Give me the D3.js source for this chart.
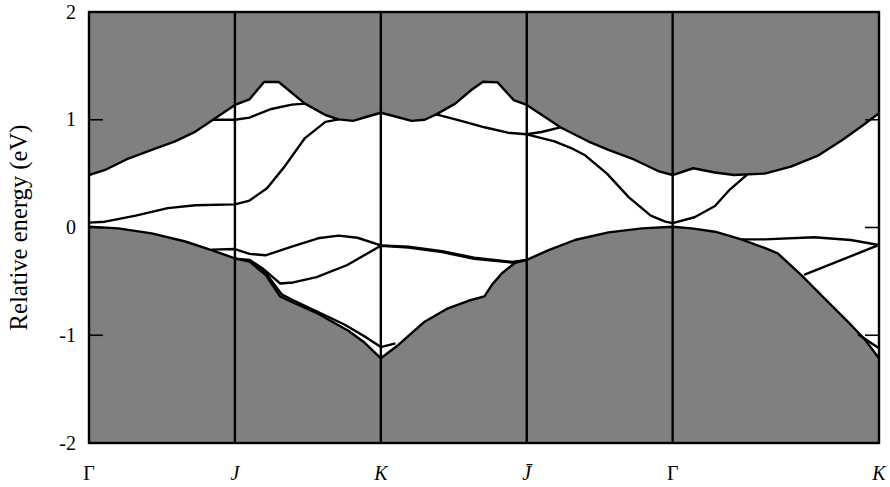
<!DOCTYPE html>
<html>
<head>
<meta charset="utf-8">
<script src="https://cdn.jsdelivr.net/npm/d3@7"></script>
<style>
  html, body { margin: 0; padding: 0; background: #fff; }
  svg text { font-family: "Liberation Serif", "Times New Roman", serif; fill: #000; }
</style>
</head>
<body>
<svg id="chart" width="890" height="487"></svg>
<script>
// High-symmetry points along the k-path (path length units)
const kLabels = ["Γ", "J", "K", "J\u0304", "Γ", "K"];
const kItalic = [false, true, true, true, false, true];
const kPoints = [0, 1, 2, 3, 4, 5.414];

// Energy axis
const yTicks = [2, 1, 0, -1, -2];
const yInnerTicks = [1, 0, -1];
const yTitle = "Relative energy (eV)";

// Lower boundary of the conduction continuum [k, E]
const conductionEdge = [
  [0, 0.487], [0.11, 0.534], [0.27, 0.64], [0.43, 0.72], [0.59, 0.80], [0.73, 0.89],
  [0.85, 1.0], [1.0, 1.137], [1.10, 1.19], [1.20, 1.35], [1.30, 1.35], [1.48, 1.15],
  [1.62, 1.044], [1.71, 1.004], [1.81, 0.99], [1.91, 1.03], [2.0, 1.065], [2.10, 1.03],
  [2.21, 0.99], [2.30, 1.0], [2.38, 1.05], [2.51, 1.15], [2.62, 1.276], [2.70, 1.353],
  [2.80, 1.347], [2.91, 1.183], [3.0, 1.137], [3.12, 1.03], [3.23, 0.93], [3.42, 0.80],
  [3.56, 0.72], [3.72, 0.64], [3.90, 0.524], [4.0, 0.487], [4.14, 0.55], [4.29, 0.51],
  [4.42, 0.487], [4.63, 0.50], [4.81, 0.565], [5.0, 0.67], [5.16, 0.81], [5.29, 0.935],
  [5.414, 1.06]
];

// Upper boundary of the valence continuum [k, E]
const valenceEdge = [
  [0, 0.007], [0.20, -0.008], [0.43, -0.054], [0.66, -0.13], [0.84, -0.21], [1.0, -0.286],
  [1.10, -0.317], [1.21, -0.44], [1.31, -0.64], [1.39, -0.69], [1.57, -0.80], [1.78, -0.96],
  [1.89, -1.07], [2.0, -1.214], [2.12, -1.09], [2.30, -0.874], [2.46, -0.75], [2.60, -0.68],
  [2.71, -0.64], [2.76, -0.534], [2.83, -0.425], [2.92, -0.327], [3.0, -0.30], [3.15, -0.21],
  [3.33, -0.116], [3.56, -0.045], [3.79, -0.008], [4.0, 0.007], [4.13, -0.008], [4.29, -0.039],
  [4.47, -0.11], [4.63, -0.19], [4.72, -0.24], [4.88, -0.44], [5.04, -0.657], [5.20, -0.874],
  [5.32, -1.044], [5.414, -1.214]
];

// Gap states above the Fermi level [k, E]
const bandA = [
  [0, 0.045], [0.11, 0.054], [0.32, 0.11], [0.54, 0.18], [0.73, 0.206], [1.0, 0.215],
  [1.10, 0.25], [1.22, 0.365], [1.34, 0.565], [1.48, 0.83], [1.62, 0.98], [1.71, 1.004]
];
const bandB = [
  [0.85, 1.0], [1.0, 1.0], [1.10, 1.02], [1.25, 1.10], [1.39, 1.14], [1.48, 1.15]
];
const bandC = [
  [2.38, 1.05], [2.55, 0.99], [2.71, 0.93], [2.87, 0.88], [3.0, 0.865], [3.19, 0.80],
  [3.30, 0.74], [3.40, 0.67], [3.55, 0.50], [3.70, 0.28], [3.85, 0.11], [3.95, 0.055],
  [4.0, 0.04], [4.15, 0.095], [4.29, 0.2], [4.39, 0.35], [4.51, 0.49]
];
const bandD = [
  [3.0, 0.865], [3.10, 0.886], [3.23, 0.93]
];

// Gap states below the Fermi level [k, E]
const bandV1 = [
  [0.84, -0.205], [1.0, -0.20], [1.10, -0.245], [1.21, -0.258], [1.39, -0.178], [1.57, -0.10],
  [1.71, -0.075], [1.84, -0.095], [2.0, -0.166], [2.19, -0.178], [2.42, -0.22], [2.64, -0.28],
  [2.90, -0.32], [3.0, -0.30]
];
const bandV2 = [
  [1.0, -0.29], [1.10, -0.30], [1.19, -0.38], [1.31, -0.52], [1.40, -0.51], [1.56, -0.46],
  [1.77, -0.348], [2.0, -0.169], [2.19, -0.186], [2.42, -0.229], [2.64, -0.29], [2.90, -0.326],
  [3.0, -0.30]
];
const bandV3 = [
  [1.10, -0.31], [1.21, -0.42], [1.32, -0.62], [1.40, -0.675], [1.57, -0.785], [1.75, -0.90],
  [1.90, -1.02], [2.0, -1.11], [2.10, -1.075]
];
const bandV4 = [
  [4.47, -0.11], [4.63, -0.11], [4.97, -0.09], [5.22, -0.116], [5.414, -0.162]
];
const bandV5 = [
  [4.90, -0.44], [5.414, -0.162]
];
const bandV6 = [
  [5.27, -0.99], [5.414, -1.12]
];

const gapBands = [bandA, bandB, bandC, bandD, bandV1, bandV2, bandV3, bandV4, bandV5, bandV6];

// ---- layout ----
const svg = d3.select("#chart");
const margin = { left: 89, right: 11, top: 12, bottom: 44 };
const W = 890, H = 487;
const x = d3.scaleLinear().domain([0, 5.414]).range([margin.left, W - margin.right]);
const y = d3.scaleLinear().domain([-2, 2]).range([H - margin.bottom, margin.top]);
const [x0, x1] = x.range();
const [yb, yt] = y.range();

svg.append("clipPath").attr("id", "plotClip")
  .append("rect").attr("x", x0).attr("y", yt).attr("width", x1 - x0).attr("height", yb - yt);

const plot = svg.append("g").attr("clip-path", "url(#plotClip)");

// continua
const upperArea = d3.area().x(d => x(d[0])).y0(y(2)).y1(d => y(d[1]));
const lowerArea = d3.area().x(d => x(d[0])).y0(y(-2)).y1(d => y(d[1]));
plot.append("path").datum(conductionEdge).attr("d", upperArea).attr("fill", "#808080");
plot.append("path").datum(valenceEdge).attr("d", lowerArea).attr("fill", "#808080");

const line = d3.line().x(d => x(d[0])).y(d => y(d[1]));
const strokeStyle = sel => sel.attr("fill", "none").attr("stroke", "#000")
  .attr("stroke-width", 2.4).attr("stroke-linejoin", "round");

plot.append("path").datum(conductionEdge).attr("d", line).call(strokeStyle);
plot.append("path").datum(valenceEdge).attr("d", line).call(strokeStyle);
plot.selectAll("path.band").data(gapBands).join("path")
  .attr("class", "band").attr("d", line).call(strokeStyle);

// high-symmetry vertical lines
svg.append("g").selectAll("line").data(kPoints.slice(1, -1)).join("line")
  .attr("x1", d => x(d)).attr("x2", d => x(d))
  .attr("y1", yt).attr("y2", yb)
  .attr("stroke", "#000").attr("stroke-width", 2.4);

// inward ticks on both sides
const tickLen = 14;
const ticksG = svg.append("g").attr("stroke", "#000").attr("stroke-width", 1.6);
ticksG.selectAll("line.l").data(yInnerTicks).join("line").attr("class", "l")
  .attr("x1", x0).attr("x2", x0 + tickLen).attr("y1", d => y(d)).attr("y2", d => y(d));
ticksG.selectAll("line.r").data(yInnerTicks).join("line").attr("class", "r")
  .attr("x1", x1 - tickLen).attr("x2", x1).attr("y1", d => y(d)).attr("y2", d => y(d));

// frame
svg.append("rect").attr("x", x0).attr("y", yt).attr("width", x1 - x0).attr("height", yb - yt)
  .attr("fill", "none").attr("stroke", "#000").attr("stroke-width", 2.4);

// y tick labels
svg.append("g").selectAll("text").data(yTicks).join("text")
  .attr("x", x0 - 13).attr("y", d => y(d)).attr("dy", "0.33em")
  .attr("text-anchor", "end").attr("font-size", 20)
  .text(d => d);

// k-point labels
svg.append("g").selectAll("text").data(kLabels).join("text")
  .attr("x", (d, i) => x(kPoints[i])).attr("y", 480)
  .attr("text-anchor", "middle").attr("font-size", 20)
  .attr("font-style", (d, i) => kItalic[i] ? "italic" : "normal")
  .text(d => d);

// y axis title, sized to span the axis
const title = svg.append("text")
  .attr("transform", `translate(27,${(yt + yb) / 2}) rotate(-90)`)
  .attr("text-anchor", "middle").attr("font-size", 22)
  .text(yTitle);
const len = title.node().getComputedTextLength();
title.attr("font-size", 22 * 206 / len);
</script>
</body>
</html>
